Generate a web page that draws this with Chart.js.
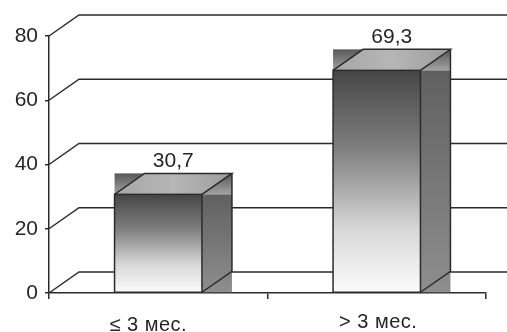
<!DOCTYPE html>
<html>
<head>
<meta charset="utf-8">
<script src="https://cdn.jsdelivr.net/npm/chart.js@4.4.1/dist/chart.umd.min.js"></script>
<style>
  html, body { margin: 0; padding: 0; background: #fff; }
  #wrap { width: 507px; height: 332px; position: relative; }
</style>
</head>
<body>
<div id="wrap"><canvas id="c" width="507" height="332"></canvas></div>
<script>
// Data
const categories = ['≤ 3 мес.', '> 3 мес.'];
const shares = [30.7, 69.3];
const valueLabels = ['30,7', '69,3'];
const yTicks = [0, 20, 40, 60, 80];

// 3D depth offsets (px)
const DX = 30, DY = 21;
const INK = '#2b2b2b';
const TEXT = '#262626';
const FONT = '"Liberation Sans", Arial, sans-serif';

// Perspective grid: each tick runs diagonally back, then across the back wall
const perspectiveGrid = {
  id: 'perspectiveGrid',
  beforeDatasetsDraw(chart) {
    const { ctx, scales: { y }, chartArea } = chart;
    ctx.save();
    ctx.strokeStyle = INK;
    ctx.lineWidth = 1.5;
    yTicks.forEach(v => {
      const py = y.getPixelForValue(v);
      ctx.beginPath();
      ctx.moveTo(chartArea.left, py);
      ctx.lineTo(chartArea.left + DX, py - DY);
      ctx.lineTo(chart.width, py - DY);
      ctx.stroke();
    });
    ctx.restore();
  }
};

// Shaded 3D boxes built on the bar elements
const boxes = {
  id: 'boxes',
  afterDatasetsDraw(chart) {
    const { ctx } = chart;
    const meta = chart.getDatasetMeta(0);
    ctx.save();
    meta.data.forEach(el => {
      const x0 = el.x - el.width / 2, x1 = el.x + el.width / 2;
      const top = el.y, base = el.base;

      // top band
      let g = ctx.createLinearGradient(0, top - DY, 0, top);
      g.addColorStop(0, '#585858');
      g.addColorStop(1, '#a2a2a2');
      ctx.fillStyle = g;
      ctx.fillRect(x0, top - DY, x1 + DX - x0, DY);

      // side band
      g = ctx.createLinearGradient(0, top, 0, base);
      g.addColorStop(0, '#606060');
      g.addColorStop(1, '#8e8e8e');
      ctx.fillStyle = g;
      ctx.fillRect(x1, top, DX, base - top);

      // top face
      g = ctx.createLinearGradient(x0, 0, x1 + DX, 0);
      g.addColorStop(0, '#a6a6a6');
      g.addColorStop(0.5, '#b6b6b6');
      g.addColorStop(1, '#9c9c9c');
      ctx.fillStyle = g;
      ctx.beginPath();
      ctx.moveTo(x0, top);
      ctx.lineTo(x0 + DX, top - DY);
      ctx.lineTo(x1 + DX, top - DY);
      ctx.lineTo(x1, top);
      ctx.closePath();
      ctx.fill();

      // front face
      g = ctx.createLinearGradient(0, top, 0, base);
      g.addColorStop(0, '#464646');
      g.addColorStop(0.35, '#7e7e7e');
      g.addColorStop(0.72, '#d8d8d8');
      g.addColorStop(1, '#fbfbfb');
      ctx.fillStyle = g;
      ctx.fillRect(x0, top, x1 - x0, base - top);

      // edges
      ctx.strokeStyle = INK;
      ctx.lineWidth = 1.5;
      ctx.strokeRect(x0, top, x1 - x0, base - top);
      ctx.beginPath();
      ctx.moveTo(x0, top);
      ctx.lineTo(x0 + DX, top - DY);
      ctx.lineTo(x1 + DX, top - DY);
      ctx.lineTo(x1, top);
      ctx.moveTo(x1 + DX, top - DY);
      ctx.lineTo(x1 + DX, base - DY);
      ctx.lineTo(x1, base);
      ctx.stroke();
    });
    ctx.restore();
  }
};

// Value labels above boxes and category labels under the axis
const labels = {
  id: 'labels',
  afterDatasetsDraw(chart) {
    const { ctx, scales: { x }, chartArea } = chart;
    const meta = chart.getDatasetMeta(0);
    ctx.save();
    ctx.fillStyle = TEXT;
    ctx.textAlign = 'center';
    ctx.textBaseline = 'alphabetic';
    ctx.font = '21px ' + FONT;
    meta.data.forEach((el, i) => {
      ctx.fillText(valueLabels[i], el.x + DX / 2, el.y - DY - 6);
    });
    const nudgeX = [-10, 1.5];
    const nudgeY = [38, 35];
    ctx.font = '20px ' + FONT;
    if ('letterSpacing' in ctx) ctx.letterSpacing = '0.5px';
    categories.forEach((c, i) => {
      ctx.fillText(c, x.getPixelForValue(i) + nudgeX[i], chartArea.bottom + nudgeY[i]);
    });
    ctx.restore();
  }
};

new Chart(document.getElementById('c'), {
  type: 'bar',
  data: {
    labels: categories,
    datasets: [{
      data: shares,
      backgroundColor: 'rgba(0,0,0,0)',
      borderWidth: 0,
      categoryPercentage: 1,
      barPercentage: 0.4
    }]
  },
  options: {
    responsive: false,
    animation: false,
    layout: { padding: { top: 36, right: 21, left: 0, bottom: 0 } },
    plugins: { legend: { display: false }, tooltip: { enabled: false } },
    scales: {
      x: {
        offset: true,
        grid: { offset: true, drawOnChartArea: false, drawTicks: true, tickLength: 6, color: INK, lineWidth: 1.5 },
        border: { display: true, color: INK, width: 1.5 },
        ticks: { display: false },
        afterFit(s) { s.height = 39; }
      },
      y: {
        min: 0, max: 80,
        ticks: { stepSize: 20, color: TEXT, padding: 7, font: { size: 21, family: FONT } },
        grid: { drawOnChartArea: false, drawTicks: true, tickLength: 4, color: INK, lineWidth: 1.5 },
        border: { display: true, color: INK, width: 1.5 },
        afterFit(s) { s.width = 49; }
      }
    }
  },
  plugins: [perspectiveGrid, boxes, labels]
});
</script>
</body>
</html>
